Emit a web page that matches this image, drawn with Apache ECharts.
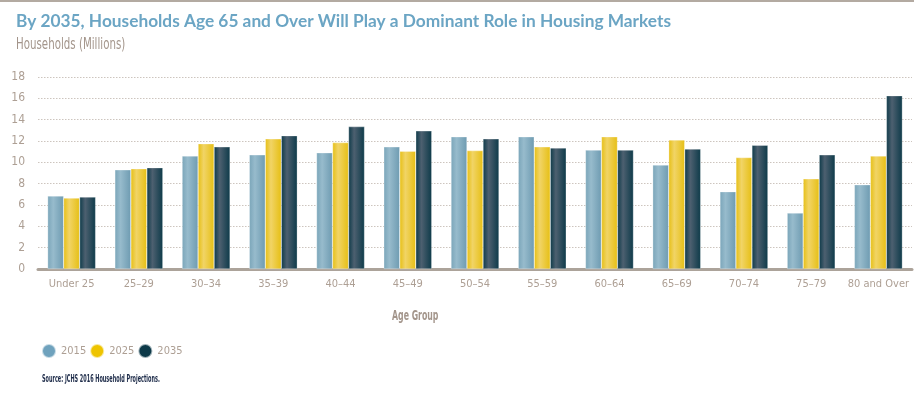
<!DOCTYPE html>
<html>
<head>
<meta charset="utf-8">
<script src="https://cdn.jsdelivr.net/npm/echarts@6/dist/echarts.min.js"></script>
<style>
html,body{margin:0;padding:0;background:#fff;}
#chart{width:918px;height:393px;}
</style>
</head>
<body>
<div id="chart"></div>
<script>
const categories = ['Under 25','25–29','30–34','35–39','40–44','45–49','50–54','55–59','60–64','65–69','70–74','75–79','80 and Over'];
const seriesNames = ['2015','2025','2035'];
const values2015 = [6.85, 9.3, 10.6, 10.7, 10.9, 11.45, 12.4, 12.4, 11.15, 9.75, 7.25, 5.25, 7.9];
const values2025 = [6.65, 9.4, 11.75, 12.2, 11.85, 11.05, 11.1, 11.45, 12.4, 12.1, 10.45, 8.45, 10.6];
const values2035 = [6.75, 9.5, 11.45, 12.5, 13.35, 12.95, 12.2, 11.35, 11.15, 11.25, 11.6, 10.7, 16.25];
const yTicks = [0, 2, 4, 6, 8, 10, 12, 14, 16, 18];

const narrow = '"DejaVu Sans Condensed", "DejaVu Sans", sans-serif';
const labelColor = '#ad9f94';

function grad(edge, light, edge2) {
  return new echarts.graphic.LinearGradient(0, 0, 1, 0, [
    {offset: 0, color: edge},
    {offset: 0.35, color: light},
    {offset: 1, color: edge2}
  ]);
}
const fills = [
  grad('#7aa5b9', '#97bbcc', '#6e9bb1'),
  grad('#e6bf14', '#f1d466', '#e6bf14'),
  grad('#0d3a49', '#4d6070', '#0d3a49')
];
const legendColors = ['#6fa2bd', '#eec400', '#0d3a49'];
const allValues = [values2015, values2025, values2035];

const chart = echarts.init(document.getElementById('chart'), null, {renderer: 'canvas'});
chart.setOption({
  animation: false,
  backgroundColor: '#fff',
  title: {
    text: 'By 2035, Households Age 65 and Over Will Play a Dominant Role in Housing Markets',
    left: 16, top: 13, padding: 0,
    textStyle: {fontFamily: 'Lato, sans-serif', fontWeight: 'bold', fontSize: 17.3, color: '#6ba5c4'}
  },
  legend: {
    left: 36, top: 338,
    icon: 'circle',
    itemWidth: 14, itemHeight: 14, itemGap: 3,
    textStyle: {fontFamily: narrow, fontSize: 11, color: labelColor},
    data: seriesNames.map((n, i) => ({name: n, itemStyle: {color: legendColors[i]}}))
  },
  grid: {left: 38, right: 6, top: 77, bottom: 124, containLabel: false},
  xAxis: {
    type: 'category',
    data: categories,
    axisLine: {show: true, lineStyle: {color: '#aca39a', width: 3}},
    axisTick: {show: false},
    axisLabel: {fontFamily: narrow, fontSize: 11, color: labelColor, margin: 10, interval: 0}
  },
  yAxis: {
    type: 'value',
    min: 0, max: 18, interval: 2,
    axisLine: {show: false},
    axisTick: {show: false},
    axisLabel: {fontFamily: narrow, fontSize: 12, color: labelColor, margin: 13,
      formatter: v => yTicks.includes(v) ? String(v) : ''},
    splitLine: {show: true, lineStyle: {color: '#cdc5be', type: [1.5, 1.5], width: 1}}
  },
  series: seriesNames.map((n, i) => ({
    name: n,
    type: 'bar',
    data: allValues[i],
    barWidth: 16,
    barGap: '0%',
    itemStyle: {color: fills[i], borderColor: 'rgba(255,255,255,0.6)', borderWidth: 0.5}
  })),
  graphic: [
    {type: 'line', shape: {x1: 0, y1: 1, x2: 914, y2: 1}, style: {stroke: '#b3aaa1', lineWidth: 2}},
    {type: 'text', x: 16, y: 38, scaleX: 0.76, style: {text: 'Households (Millions)', fontFamily: narrow, fontSize: 15, fill: '#a3958b'}},
    {type: 'text', x: 392, y: 309, scaleX: 0.62, style: {text: 'Age Group', fontFamily: narrow, fontWeight: 'bold', fontSize: 14, fill: '#a3958b'}},
    {type: 'text', x: 42, y: 374, scaleX: 0.55, style: {text: 'Source: JCHS 2016 Household Projections.', fontFamily: narrow, fontWeight: 'bold', fontSize: 10, fill: '#1c2a48'}}
  ]
});
</script>
</body>
</html>
